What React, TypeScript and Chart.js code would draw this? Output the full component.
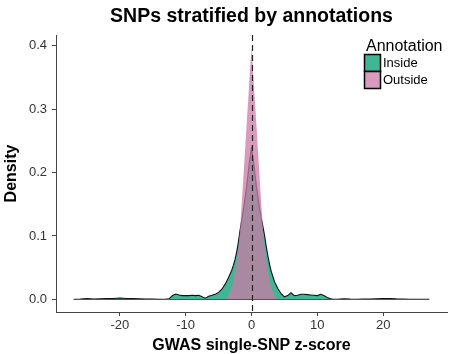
import React, { useEffect, useRef } from "react";
import { Chart, registerables } from "chart.js";
Chart.register(...registerables);

const chartTitle = "SNPs stratified by annotations";
const xTitle = "GWAS single-SNP z-score";
const yTitle = "Density";
const legendTitle = "Annotation";
const seriesNames = ["Inside", "Outside"];

const xs = [
  -27, -26, -25, -24, -23, -22, -21, -20, -19, -18, -17, -16, -15, -14, -13,
  -12.5, -12, -11.5, -11, -10.5, -10, -9.5, -9, -8.5, -8, -7.5, -7, -6.5, -6, -5.5, -5, -4.5, -4, -3.5,
  -3, -2.75, -2.5, -2.25, -2, -1.75, -1.5, -1.25, -1, -0.75, -0.5, -0.25,
  0,
  0.25, 0.5, 0.75, 1, 1.25, 1.5, 1.75, 2, 2.25, 2.5, 2.75, 3,
  3.5, 4, 4.5, 5, 5.5, 6, 6.5, 7, 7.5, 8, 8.5, 9, 9.5, 10, 10.5, 11, 11.5, 12, 12.5,
  13, 14, 15, 16, 17, 18, 19, 20, 21, 22, 23, 24, 25, 26, 27,
];

const inside = [
  0.0003, 0.0005, 0.0012, 0.0006, 0.0008, 0.0012, 0.0015, 0.0022, 0.0015, 0.0012, 0.0008, 0.0005, 0.0004, 0.0003, 0.0004,
  0.001, 0.006, 0.0085, 0.007, 0.006, 0.0062, 0.006, 0.0065, 0.006, 0.0065, 0.004, 0.0018, 0.005, 0.0065, 0.008, 0.011, 0.016, 0.024, 0.034,
  0.046, 0.054, 0.063, 0.075, 0.09, 0.108, 0.124, 0.14, 0.158, 0.177, 0.2, 0.222,
  0.239,
  0.222, 0.2, 0.178, 0.16, 0.142, 0.128, 0.114, 0.1, 0.083, 0.068, 0.055, 0.044,
  0.028, 0.017, 0.009, 0.004, 0.006, 0.0105, 0.006, 0.0065, 0.008, 0.008, 0.0075, 0.007, 0.0065, 0.006, 0.008, 0.006, 0.003, 0.001, 0.0003,
  0.0003, 0.001, 0.0004, 0.0003, 0.0006, 0.0004, 0.0008, 0.0012, 0.0015, 0.0008, 0.0005, 0.0003, 0.0002, 0.0001, 0.0001,
];

const outside = [
  0, 0, 0, 0, 0, 0, 0, 0, 0, 0, 0, 0, 0, 0, 0,
  0, 0, 0, 0, 0, 0, 0, 0, 0, 0, 0, 0, 0, 0, 0, 0, 0, 0, 0.005,
  0.019, 0.03, 0.044, 0.06, 0.08, 0.108, 0.148, 0.19, 0.232, 0.275, 0.315, 0.358,
  0.397,
  0.358, 0.315, 0.275, 0.232, 0.19, 0.148, 0.108, 0.08, 0.06, 0.044, 0.03, 0.019,
  0.005, 0, 0, 0, 0, 0, 0, 0, 0, 0, 0, 0, 0, 0, 0, 0, 0, 0, 0,
  0, 0, 0, 0, 0, 0, 0, 0, 0, 0, 0, 0, 0, 0, 0,
];

const xTicks = [-20, -10, 0, 10, 20];
const yTicks = [0, 0.1, 0.2, 0.3, 0.4];

const greenFill = "rgba(0,158,115,0.75)";
const pinkFill = "rgba(204,121,167,0.75)";
const FONT = '"Liberation Sans", Arial, Helvetica, sans-serif';

const overlay = {
  id: "overlay",
  afterDatasetsDraw(chart: any) {
    const { ctx, chartArea, scales } = chart;
    const x = scales.x;
    const y = scales.y;
    ctx.save();
    ctx.strokeStyle = "#555";
    ctx.lineWidth = 1;
    const y0 = Math.round(y.getPixelForValue(0)) + 0.5;
    ctx.beginPath();
    ctx.moveTo(x.getPixelForValue(xs[0]), y0);
    ctx.lineTo(x.getPixelForValue(xs[xs.length - 1]), y0);
    ctx.stroke();
    ctx.setLineDash([6, 4]);
    ctx.strokeStyle = "#222";
    ctx.lineWidth = 1.2;
    const px = Math.round(x.getPixelForValue(0)) + 0.5;
    ctx.beginPath();
    ctx.moveTo(px, chartArea.top);
    ctx.lineTo(px, chartArea.bottom);
    ctx.stroke();
    ctx.restore();
  },
  afterDraw(chart: any) {
    const { ctx, chartArea } = chart;
    const cx = (chartArea.left + chartArea.right) / 2;
    ctx.save();
    ctx.fillStyle = "#000";
    ctx.textAlign = "center";
    ctx.textBaseline = "alphabetic";
    ctx.font = `bold 19.5px ${FONT}`;
    ctx.fillText(chartTitle, cx, 22);
    ctx.font = `bold 16px ${FONT}`;
    ctx.textBaseline = "middle";
    ctx.fillText(xTitle, cx, 346);
    ctx.save();
    ctx.translate(12, (chartArea.top + chartArea.bottom) / 2);
    ctx.rotate(-Math.PI / 2);
    ctx.fillText(yTitle, 0, 0);
    ctx.restore();
    ctx.textAlign = "left";
    ctx.textBaseline = "alphabetic";
    ctx.font = `16px ${FONT}`;
    ctx.fillText(legendTitle, 366, 51);
    const fills = [greenFill, pinkFill];
    ctx.font = `13px ${FONT}`;
    ctx.textBaseline = "middle";
    for (let i = 0; i < 2; i++) {
      const bx = 364.5, by = 54.5 + i * 17, bw = 16, bh = 17;
      ctx.fillStyle = "#fff";
      ctx.fillRect(bx, by, bw, bh);
      ctx.fillStyle = fills[i];
      ctx.fillRect(bx, by, bw, bh);
      ctx.strokeStyle = "#000";
      ctx.lineWidth = 1.5;
      ctx.strokeRect(bx, by, bw, bh);
      ctx.fillStyle = "#000";
      ctx.fillText(seriesNames[i], 383, by + bh / 2 + 0.5);
    }
    ctx.restore();
  },
};

export default function App() {
  const ref = useRef<HTMLCanvasElement | null>(null);
  useEffect(() => {
    if (!ref.current) return;
    const chart = new Chart(ref.current, {
      type: "line",
      data: {
        datasets: [
          {
            label: seriesNames[1],
            data: xs.map((x, i) => ({ x, y: outside[i] })),
            backgroundColor: pinkFill,
            borderColor: "rgba(0,0,0,0)",
            borderWidth: 0,
            fill: "origin",
            pointRadius: 0,
            tension: 0,
            order: 1,
          },
          {
            label: seriesNames[0],
            data: xs.map((x, i) => ({ x, y: inside[i] })),
            backgroundColor: greenFill,
            borderColor: "#111",
            borderWidth: 1.1,
            fill: "origin",
            pointRadius: 0,
            tension: 0,
            order: 2,
          },
        ],
      },
      options: {
        responsive: false,
        animation: false,
        layout: { padding: { top: 35, right: 2, left: 0, bottom: 0 } },
        plugins: { legend: { display: false }, title: { display: false }, tooltip: { enabled: false } },
        scales: {
          x: {
            type: "linear",
            min: -29.7,
            max: 29.7,
            afterBuildTicks: (s: any) => {
              s.ticks = xTicks.map((v) => ({ value: v }));
            },
            afterFit: (s: any) => {
              s.height = 42;
            },
            ticks: { font: { size: 13, family: FONT }, color: "#333", padding: 2, maxRotation: 0, callback: (v: any) => String(v) },
            grid: { drawOnChartArea: false, drawTicks: true, tickLength: 4, color: "#444" },
            border: { display: true, color: "#444", width: 1 },
          },
          y: {
            type: "linear",
            min: -0.0199,
            max: 0.417,
            afterBuildTicks: (s: any) => {
              s.ticks = yTicks.map((v) => ({ value: v }));
            },
            afterFit: (s: any) => {
              s.width = 56;
            },
            ticks: { font: { size: 13, family: FONT }, color: "#333", padding: 5, callback: (v: any) => Number(v).toFixed(1) },
            grid: { drawOnChartArea: false, drawTicks: true, tickLength: 4, color: "#444" },
            border: { display: true, color: "#444", width: 1 },
          },
        },
      },
      plugins: [overlay],
    } as any);
    return () => chart.destroy();
  }, []);
  return (
    <div style={{ position: "fixed", left: 0, top: 0, width: 449, height: 354, background: "#fff" }}>
      <canvas ref={ref} width={449} height={354} style={{ display: "block", width: 449, height: 354 }} />
    </div>
  );
}
